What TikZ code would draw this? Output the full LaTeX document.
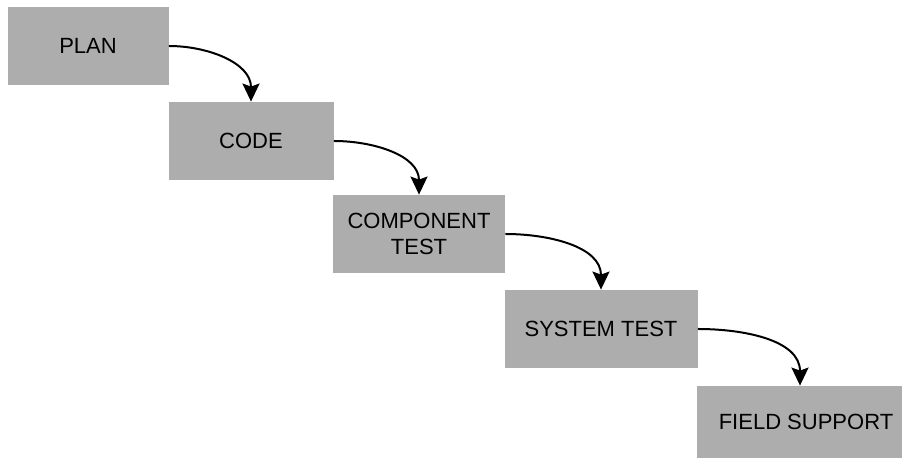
\documentclass[tikz,border=0pt]{standalone}
\usepackage{fontspec}
\setmainfont{Liberation Sans}
\usetikzlibrary{arrows.meta}
\definecolor{stagegray}{gray}{0.68}

\begin{document}
\begin{tikzpicture}[x=0.5pt, y=-0.5pt,
    stage/.style={fill=stagegray, minimum height=39pt, inner sep=0pt, align=center, font=\fontsize{11}{13}\selectfont},
    flow/.style={-{Stealth[length=9pt, width=8.5pt, inset=1.5pt]}, line width=1pt, out=0, in=90}]
    \useasboundingbox (0,0) rectangle (902,458);

    % Stages of the waterfall
    \node[stage, minimum width=80.5pt] (plan) at (88,46) {PLAN};
    \node[stage, minimum width=82.5pt] (code) at (251,141) {CODE};
    \node[stage, minimum width=86pt] (comptest) at (419,234) {COMPONENT\\TEST};
    \node[stage, minimum width=96.5pt] (systest) at (601,329) {SYSTEM TEST};
    \node[stage, minimum width=103pt, minimum height=36pt] (field) at (800,422) {\hspace{6pt}FIELD SUPPORT};

    % Arrows
    \draw[flow] (plan.east) to (code.north);
    \draw[flow] (code.east) to (comptest.north);
    \draw[flow] (comptest.east) to (systest.north);
    \draw[flow] (systest.east) to (field.north);
\end{tikzpicture}
\end{document}
